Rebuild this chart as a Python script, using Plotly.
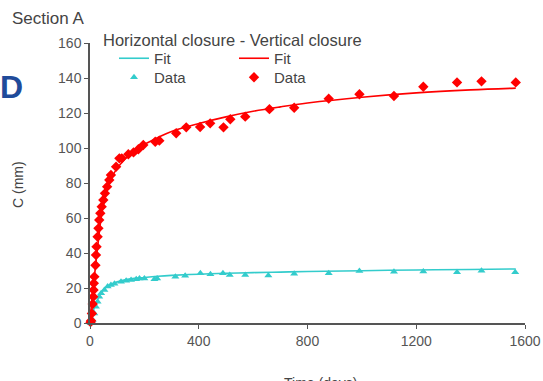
import plotly.graph_objects as go

# ---- Data ----
red_days = [2, 4, 7, 10, 12, 13, 14, 16, 20, 22, 24, 28, 31, 34, 38, 43, 49, 55, 63, 71, 77,
            96, 108, 117, 141, 160, 178, 196, 240, 255, 317, 354, 405, 442, 491, 516, 571,
            660, 751, 878, 991, 1118, 1226, 1350, 1440, 1566]
red_vals = [0.5, 1.3, 5.5, 10.9, 15.0, 18.9, 22.7, 26.5, 33.0, 38.9, 43.6, 49.3, 54.1, 58.9, 62.7,
            66.5, 70.3, 74.1, 77.9, 81.7, 84.6, 89.3, 94.1, 94.1, 96.4, 97.5, 99.3, 101.7, 103.6,
            104.2, 108.4, 111.8, 112.0, 114.1, 111.8, 116.4, 117.9, 122.2, 123.0, 128.2, 130.7,
            129.7, 135.0, 137.5, 138.1, 137.5]

cyan_days = [2, 4, 10, 16, 22, 28, 34, 41, 53, 65, 77, 90, 114, 133, 151, 170, 182, 200, 237,
             247, 314, 350, 406, 443, 489, 514, 571, 656, 751, 878, 991, 1118, 1226, 1350,
             1440, 1564]
cyan_vals = [0.0, 0.5, 1.7, 5.5, 9.3, 12.2, 15.0, 17.0, 18.9, 20.8, 21.7, 22.5, 23.6, 24.2, 24.6,
             25.0, 25.5, 25.5, 25.0, 25.5, 26.5, 27.0, 28.4, 27.8, 28.4, 27.4, 27.4, 27.2, 28.2,
             28.4, 29.7, 29.3, 29.5, 29.0, 29.9, 29.0]

fit_days = [0, 5, 10, 20, 30, 40, 50, 60, 70, 80, 100, 125, 150, 200, 250, 300, 400, 500, 600,
            700, 800, 1000, 1200, 1400, 1566]
red_fit = [0, 10, 18, 32, 46, 59, 68, 74, 79, 83, 88.5, 93, 97, 102, 106, 109.5, 114, 117.8,
           121, 123.5, 125.7, 129, 131.5, 133.2, 134.2]
cyan_fit = [0, 3.5, 6, 10.5, 14, 17, 19, 20.5, 21.5, 22.3, 23.5, 24.5, 25.2, 26, 26.7, 27.2,
            27.9, 28.4, 28.8, 29.1, 29.4, 29.9, 30.3, 30.6, 30.9]

x_ticks = [0, 400, 800, 1200, 1600]
y_ticks = [0, 20, 40, 60, 80, 100, 120, 140, 160]

CYAN = "#33CCCC"
RED = "#FF0000"
GRAY = "#444444"
AXC = "#555555"
FONT = "Liberation Sans, Arial, sans-serif"

fig = go.Figure()
fig.add_trace(go.Scatter(x=fit_days, y=cyan_fit, mode="lines", name="Fit",
                         line=dict(color=CYAN, width=1.6, shape="spline"), legend="legend"))
fig.add_trace(go.Scatter(x=cyan_days, y=cyan_vals, mode="markers", name="Data",
                         marker=dict(symbol="triangle-up", size=7, color=CYAN), legend="legend3",
                         cliponaxis=False))
fig.add_trace(go.Scatter(x=fit_days, y=red_fit, mode="lines", name="Fit",
                         line=dict(color=RED, width=1.6, shape="spline"), legend="legend2"))
fig.add_trace(go.Scatter(x=red_days, y=red_vals, mode="markers", name="Data",
                         marker=dict(symbol="diamond", size=8, color=RED), legend="legend4",
                         cliponaxis=False))

W, H = 543, 381
L, R, T, B = 90, 18, 43, 58
pw = W - L - R
ph = H - T - B

def px_x(px):
    return (px - L) / pw

def px_y(py):
    return 1 - (py - T) / ph

def leg(xp, yp):
    return dict(x=px_x(xp), y=px_y(yp), bgcolor="rgba(0,0,0,0)", borderwidth=0,
                font=dict(family=FONT, size=15, color=GRAY),
                xanchor="left", yanchor="top", tracegroupgap=0, itemsizing="trace")

fig.update_layout(
    width=W, height=H,
    margin=dict(l=L, r=R, t=T, b=B, autoexpand=False),
    paper_bgcolor="white", plot_bgcolor="white",
    font=dict(family=FONT, color=GRAY),
    showlegend=True,
    legend=leg(114, 42),
    legend2=leg(234, 42),
    legend3=leg(114, 61),
    legend4=leg(234, 61),
    xaxis=dict(range=[0, 1600], tickvals=x_ticks, ticks="outside", ticklen=4,
               tickcolor=AXC, showline=True, linecolor=AXC, linewidth=1.5, automargin=False,
               showgrid=False, zeroline=False, tickfont=dict(size=14, color=AXC)),
    yaxis=dict(range=[0, 160], tickvals=y_ticks, ticks="outside", ticklen=4,
               tickcolor=AXC, showline=True, linecolor=AXC, linewidth=1.5, automargin=False,
               showgrid=False, zeroline=False, tickfont=dict(size=14, color=AXC)),
    annotations=[
        dict(text="Section A", xref="paper", yref="paper", x=px_x(10), y=px_y(18),
             xanchor="left", yanchor="middle", showarrow=False,
             font=dict(family=FONT, size=17, color=GRAY)),
        dict(text="<b>D</b>", xref="paper", yref="paper", x=px_x(-2), y=px_y(87),
             xanchor="left", yanchor="middle", showarrow=False,
             font=dict(family=FONT, size=32, color="#1F4B9A")),
        dict(text="Horizontal closure - Vertical closure", xref="paper", yref="paper",
             x=px_x(101), y=px_y(40), xanchor="left", yanchor="middle", showarrow=False,
             font=dict(family=FONT, size=16.5, color=GRAY)),
        dict(text="C (mm)", xref="paper", yref="paper", x=px_x(18), y=px_y(185),
             xanchor="center", yanchor="middle", showarrow=False, textangle=-90,
             font=dict(family=FONT, size=14, color=GRAY)),
        dict(text="Time (days)", xref="paper", yref="paper", x=px_x(320), y=px_y(373),
             xanchor="center", yanchor="top", showarrow=False,
             font=dict(family=FONT, size=14, color=GRAY)),
    ],
)

fig.write_html("out.html", config={"displayModeBar": False},
               post_script="document.body.style.margin='0px';")
